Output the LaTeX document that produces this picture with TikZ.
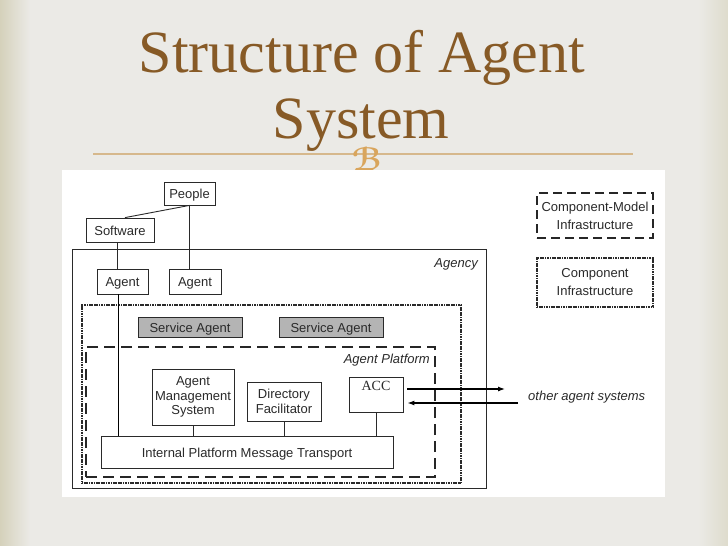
\documentclass[tikz,border=0pt]{standalone}
\usepackage{fontspec}
\setsansfont{Liberation Sans}
\setmainfont{Liberation Serif}
\newfontfamily\ornfont{DejaVu Sans}
\usetikzlibrary{arrows.meta}
\definecolor{slidebg}{HTML}{EBEAE6}
\definecolor{slideedge}{HTML}{D5D1BB}
\definecolor{titlebrown}{HTML}{875A26}
\definecolor{rulecol}{HTML}{D6B88C}
\definecolor{orncol}{HTML}{D9A55C}
\definecolor{ink}{HTML}{2A2A2A}
\definecolor{sagray}{HTML}{B4B4B4}
\tikzset{
  box/.style={draw=ink, line width=0.8pt, fill=white, inner sep=1pt, align=center,
    font=\sffamily\fontsize{13}{14.5}\selectfont, text=ink},
  one/.style={text height=11pt, text depth=1pt},
  frame/.style={draw=ink, line width=0.8pt, inner sep=0pt},
  dotframe/.style={draw=ink, line width=1.6pt, dash pattern=on 1.2pt off 0.5pt, inner sep=0pt},
  dashframe/.style={draw=black!85, line width=2.4pt, dash pattern=on 11pt off 6pt, inner sep=0pt},
  conn/.style={draw=ink, line width=0.9pt},
  lbl/.style={font=\sffamily\itshape\fontsize{13}{14}\selectfont, text=ink, inner sep=0pt},
  arr/.style={draw=black, line width=1.2pt, -{Latex[length=7pt,width=5pt]}}
}
\begin{document}
\begin{tikzpicture}[x=1pt,y=-1pt]
\useasboundingbox (0,0) rectangle (728,546);
% slide background
\fill[slidebg] (0,0) rectangle (728,546);
\shade[left color=slideedge, right color=slidebg] (0,0) rectangle (30,546);
\shade[right color=slideedge!60!slidebg, left color=slidebg] (698,0) rectangle (728,546);
% title
\node[anchor=base, text=titlebrown, font=\rmfamily\fontsize{60}{62}\selectfont, inner sep=0pt] (t1) at (362,72) {Structure of Agent};
\node[anchor=base, text=titlebrown, font=\rmfamily\fontsize{60}{62}\selectfont, inner sep=0pt] (t2) at (361,138) {System};
\draw[rulecol, line width=1.2pt] (93,154) -- (633,154);
\node[text=orncol, font=\ornfont\bfseries\fontsize{32}{32}\selectfont, inner sep=0pt] (orn) at (367,159) {ℬ};
% diagram panel
\fill[white] (62,170) rectangle (665,497);
% frames
\node[frame, minimum width=414pt, minimum height=239pt] (agency) at (279,368.5) {};
\node[lbl, anchor=base east] (agencylbl) at (478,267) {Agency};
\node[dotframe, minimum width=379pt, minimum height=178pt] (compinf) at (271.5,394) {};
\node[dashframe, minimum width=349pt, minimum height=130pt] (platform) at (260.5,412) {};
\node[lbl, anchor=base east] (platlbl) at (430,363) {Agent Platform};
% boxes
\node[box, one, minimum width=51pt, minimum height=23pt] (people) at (189.5,193.5) {People};
\node[box, one, minimum width=68pt, minimum height=24pt] (software) at (120,230) {Software};
\node[box, one, minimum width=51pt, minimum height=25pt] (agent1) at (122.5,281.5) {Agent};
\node[box, one, minimum width=52pt, minimum height=25pt] (agent2) at (195,281.5) {Agent};
\node[box, one, fill=sagray, minimum width=104pt, minimum height=20pt] (sa1) at (190,327) {Service Agent};
\node[box, one, fill=sagray, minimum width=104pt, minimum height=20pt] (sa2) at (331,327) {Service Agent};
\node[box, minimum width=82pt, minimum height=56pt] (ams) at (193,397) {Agent\\Management\\System};
\node[box, minimum width=74pt, minimum height=39pt] (df) at (284,401.5) {Directory\\Facilitator};
\node[box, minimum width=54pt, minimum height=35pt] (acc) at (376,394.5) {};
\node[font=\rmfamily\fontsize{14}{15}\selectfont, text=ink, inner sep=0pt] (acclbl) at (376,386) {ACC};
\node[box, one, minimum width=292pt, minimum height=32pt] (ipmt) at (247,452) {Internal Platform Message Transport};
% legend
\node[dashframe, line width=2pt, dash pattern=on 9pt off 5pt, minimum width=116pt, minimum height=45pt,
  font=\sffamily\fontsize{13}{18}\selectfont, text=ink, align=center] (leg1) at (595,215.5) {Component-Model\\Infrastructure};
\node[dotframe, line width=1.4pt, minimum width=116pt, minimum height=49pt,
  font=\sffamily\fontsize{13}{18}\selectfont, text=ink, align=center] (leg2) at (595,282.5) {Component\\Infrastructure};
% connectors
\draw[conn] (people.south) -- ([xshift=5pt]software.north);
\draw[conn] (people.south) -- (people.south |- agent2.north);
\draw[conn] ([xshift=-3pt]software.south) -- ([xshift=-3pt]software.south |- agent1.north);
\draw[draw=black, line width=1.6pt] ([xshift=-4pt]agent1.south) -- ([xshift=-4pt]agent1.south |- ipmt.north);
\draw[conn] (ams.south) -- (ams.south |- ipmt.north);
\draw[conn] (df.south) -- (df.south |- ipmt.north);
\draw[conn] (acc.south) -- (acc.south |- ipmt.north);
% external arrows
\coordinate (outR) at (505,389);
\coordinate (outL) at (518,403);
\draw[arr] (acc.east |- outR) ++(4,0) -- (outR);
\draw[arr] (outL) -- ([xshift=4pt]acc.east |- outL);
\node[lbl, anchor=west] (other) at (528,397) {other agent systems};
\end{tikzpicture}
\end{document}
